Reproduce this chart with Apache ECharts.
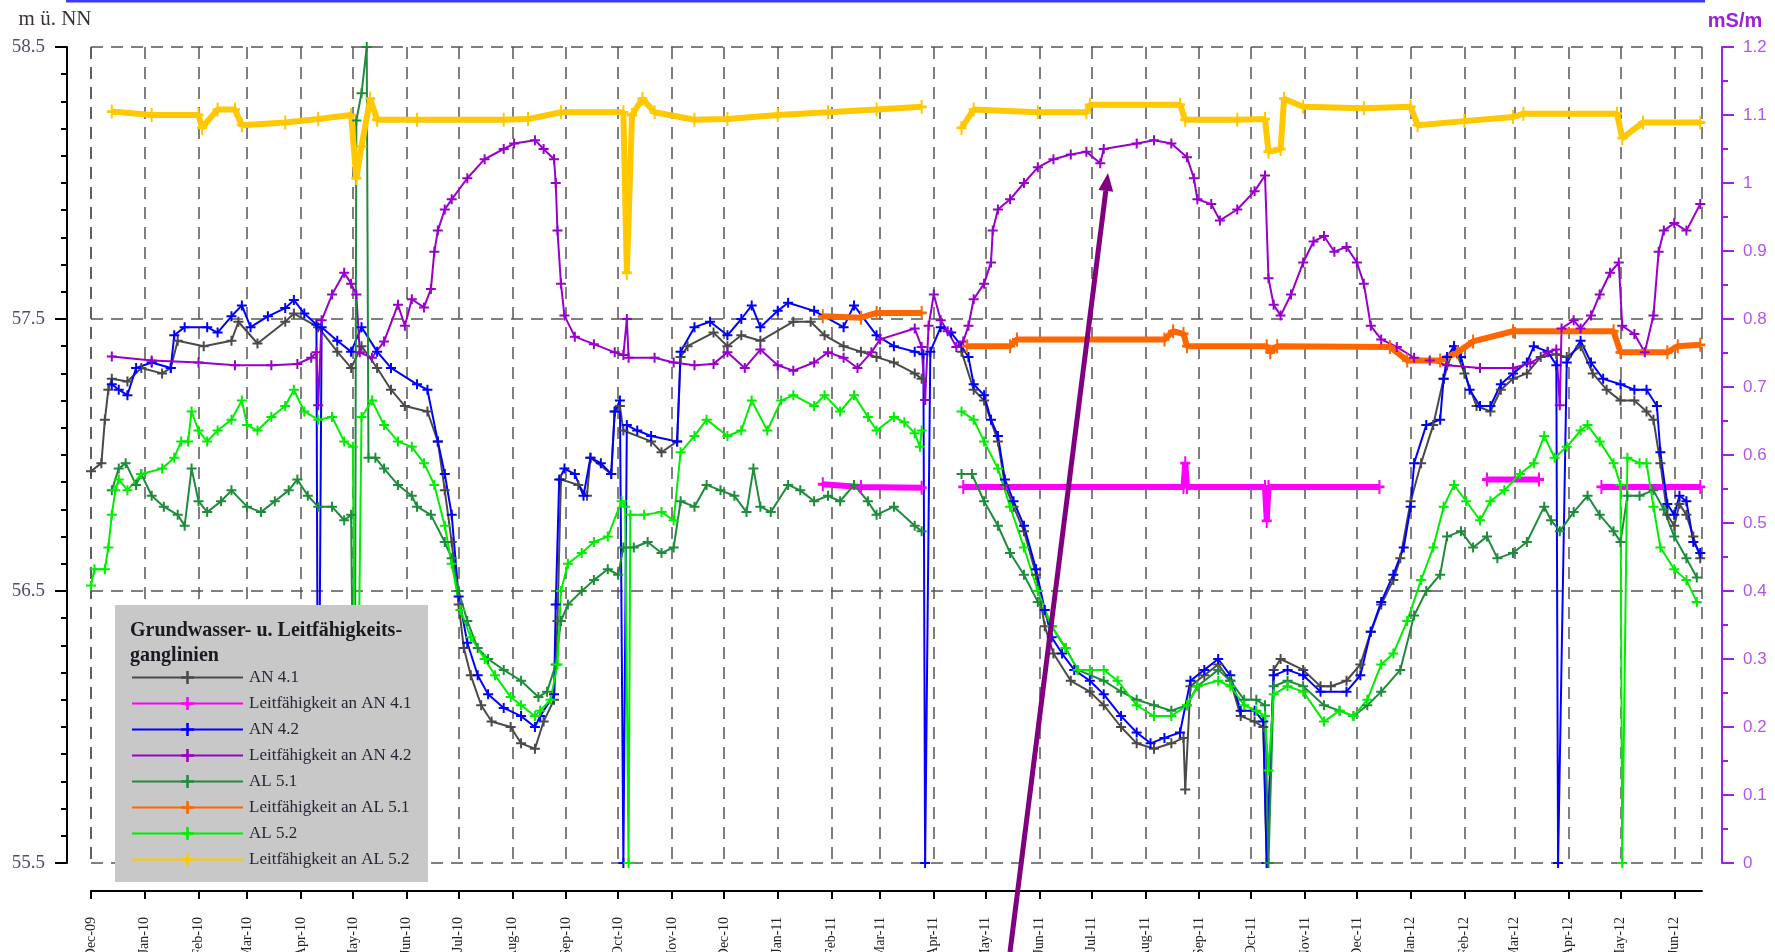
<!DOCTYPE html>
<html>
<head>
<meta charset="utf-8">
<title>Grundwasser- u. Leitfähigkeitsganglinien</title>
<script src="https://cdn.jsdelivr.net/npm/echarts@6/dist/echarts.min.js"></script>
<style>
  html, body { margin: 0; padding: 0; background: #fff; }
  #chart { width: 1775px; height: 952px; }
</style>
</head>
<body>
<div id="chart"></div>
<script>
// Wasserstand in m ü. NN (linke Achse)
const an41 = [
  ['2009-12-01', 56.94], ['2009-12-07', 56.97], ['2009-12-09', 57.13], ['2009-12-11', 57.24], ['2009-12-13', 57.28],
  ['2009-12-22', 57.27], ['2009-12-30', 57.32], ['2010-01-11', 57.30], ['2010-01-16', 57.32], ['2010-01-20', 57.42],
  ['2010-02-04', 57.40], ['2010-02-20', 57.42], ['2010-02-24', 57.49], ['2010-03-07', 57.41], ['2010-03-23', 57.49],
  ['2010-03-28', 57.52], ['2010-04-11', 57.47], ['2010-04-22', 57.38], ['2010-04-30', 57.32], ['2010-05-06', 57.40],
  ['2010-05-15', 57.32], ['2010-05-23', 57.24], ['2010-05-31', 57.18], ['2010-06-13', 57.16], ['2010-06-19', 57.05],
  ['2010-06-23', 56.87], ['2010-06-27', 56.68], ['2010-07-01', 56.45], ['2010-07-04', 56.29], ['2010-07-08', 56.19],
  ['2010-07-14', 56.08], ['2010-07-20', 56.02], ['2010-07-31', 56.00], ['2010-08-06', 55.94], ['2010-08-14', 55.92],
  ['2010-08-19', 56.02], ['2010-08-25', 56.10], ['2010-08-27', 56.39], ['2010-08-29', 56.91], ['2010-09-08', 56.89],
  ['2010-09-13', 56.85], ['2010-09-15', 56.99], ['2010-09-27', 56.93], ['2010-09-29', 57.16], ['2010-10-02', 57.18],
  ['2010-10-04', 57.09], ['2010-10-20', 57.05], ['2010-10-26', 57.01], ['2010-11-04', 57.05], ['2010-11-06', 57.36],
  ['2010-11-10', 57.40], ['2010-11-25', 57.45], ['2010-12-03', 57.40], ['2010-12-11', 57.44], ['2010-12-22', 57.42],
  ['2011-01-10', 57.49], ['2011-01-20', 57.49], ['2011-01-28', 57.44], ['2011-02-08', 57.40], ['2011-02-18', 57.38],
  ['2011-02-27', 57.36], ['2011-03-09', 57.34], ['2011-03-21', 57.30], ['2011-03-25', 57.28], ['2011-04-01', null],
  ['2011-04-17', 57.38], ['2011-04-24', 57.24], ['2011-04-30', 57.20], ['2011-05-08', 57.05], ['2011-05-12', 56.89],
  ['2011-05-17', 56.81], ['2011-05-23', 56.72], ['2011-05-30', 56.56], ['2011-06-04', 56.37], ['2011-06-09', 56.27],
  ['2011-06-19', 56.17], ['2011-06-30', 56.13], ['2011-07-08', 56.08], ['2011-07-18', 56.00], ['2011-07-27', 55.94],
  ['2011-08-06', 55.92], ['2011-08-16', 55.94], ['2011-08-23', 55.96], ['2011-08-24', 55.77], ['2011-08-27', 56.15],
  ['2011-09-04', 56.19], ['2011-09-12', 56.23], ['2011-09-19', 56.17], ['2011-09-25', 56.04], ['2011-10-03', 56.02],
  ['2011-10-08', 56.00], ['2011-10-10', 55.5], ['2011-10-14', 56.21], ['2011-10-18', 56.25], ['2011-10-31', 56.21],
  ['2011-11-10', 56.15], ['2011-11-16', 56.15], ['2011-11-25', 56.17], ['2011-12-03', 56.23], ['2011-12-09', 56.35],
  ['2011-12-15', 56.45], ['2011-12-22', 56.54], ['2011-12-26', 56.62], ['2012-01-01', 56.83], ['2012-01-07', 56.97],
  ['2012-01-14', 57.11], ['2012-01-20', 57.28], ['2012-01-26', 57.40], ['2012-02-01', 57.30], ['2012-02-08', 57.18],
  ['2012-02-16', 57.16], ['2012-02-22', 57.24], ['2012-02-29', 57.28], ['2012-03-08', 57.30], ['2012-03-16', 57.36],
  ['2012-03-25', 57.37], ['2012-03-31', 57.36], ['2012-04-08', 57.40], ['2012-04-15', 57.30], ['2012-04-23', 57.24],
  ['2012-05-01', 57.20], ['2012-05-09', 57.20], ['2012-05-16', 57.16], ['2012-05-20', 57.13], ['2012-05-24', 56.97],
  ['2012-05-28', 56.78], ['2012-06-01', 56.74], ['2012-06-04', 56.82], ['2012-06-08', 56.78], ['2012-06-12', 56.70],
  ['2012-06-16', 56.62]
];

const an42 = [
  ['2009-12-13', 57.26], ['2009-12-17', 57.24], ['2009-12-22', 57.22], ['2009-12-27', 57.32], ['2010-01-05', 57.34],
  ['2010-01-16', 57.32], ['2010-01-18', 57.44], ['2010-01-24', 57.47], ['2010-02-06', 57.47], ['2010-02-12', 57.45],
  ['2010-02-20', 57.51], ['2010-02-26', 57.55], ['2010-03-03', 57.47], ['2010-03-13', 57.51], ['2010-03-23', 57.54],
  ['2010-03-28', 57.57], ['2010-04-03', 57.52], ['2010-04-10', 57.48], ['2010-04-11', 55.5], ['2010-04-13', 57.47],
  ['2010-04-22', 57.42], ['2010-04-30', 57.38], ['2010-05-06', 57.47], ['2010-05-15', 57.38], ['2010-05-23', 57.32],
  ['2010-06-07', 57.26], ['2010-06-13', 57.24], ['2010-06-19', 57.05], ['2010-06-23', 56.93], ['2010-06-27', 56.78],
  ['2010-07-01', 56.48], ['2010-07-06', 56.31], ['2010-07-12', 56.19], ['2010-07-18', 56.12], ['2010-07-27', 56.07],
  ['2010-08-06', 56.04], ['2010-08-14', 56.00], ['2010-08-17', 56.04], ['2010-08-25', 56.12], ['2010-08-26', 56.45],
  ['2010-08-28', 56.91], ['2010-08-31', 56.95], ['2010-09-06', 56.93], ['2010-09-11', 56.85], ['2010-09-15', 56.99],
  ['2010-09-21', 56.97], ['2010-09-27', 56.93], ['2010-09-29', 57.16], ['2010-10-02', 57.20], ['2010-10-04', 55.5],
  ['2010-10-06', 57.11], ['2010-10-12', 57.09], ['2010-10-20', 57.07], ['2010-11-04', 57.05], ['2010-11-06', 57.38],
  ['2010-11-14', 57.47], ['2010-11-23', 57.49], ['2010-12-03', 57.44], ['2010-12-11', 57.50], ['2010-12-17', 57.55],
  ['2010-12-22', 57.47], ['2011-01-01', 57.53], ['2011-01-07', 57.56], ['2011-01-22', 57.53], ['2011-02-08', 57.47],
  ['2011-02-14', 57.55], ['2011-02-27', 57.44], ['2011-03-09', 57.40], ['2011-03-21', 57.38], ['2011-03-26', 57.37],
  ['2011-03-27', 55.5], ['2011-03-30', 57.38], ['2011-04-05', 57.47], ['2011-04-11', 57.45], ['2011-04-17', 57.40],
  ['2011-04-21', 57.36], ['2011-04-24', 57.26], ['2011-04-30', 57.22], ['2011-05-04', 57.13], ['2011-05-08', 57.07],
  ['2011-05-12', 56.91], ['2011-05-17', 56.83], ['2011-05-23', 56.74], ['2011-05-30', 56.58], ['2011-06-04', 56.43],
  ['2011-06-08', 56.33], ['2011-06-14', 56.27], ['2011-06-21', 56.21], ['2011-06-30', 56.17], ['2011-07-08', 56.12],
  ['2011-07-18', 56.04], ['2011-07-27', 55.98], ['2011-08-04', 55.94], ['2011-08-12', 55.96], ['2011-08-21', 55.98],
  ['2011-08-27', 56.17], ['2011-09-04', 56.21], ['2011-09-12', 56.25], ['2011-09-19', 56.19], ['2011-09-25', 56.06],
  ['2011-10-03', 56.06], ['2011-10-08', 56.02], ['2011-10-10', 55.5], ['2011-10-14', 56.19], ['2011-10-22', 56.21],
  ['2011-10-31', 56.19], ['2011-11-10', 56.13], ['2011-11-25', 56.13], ['2011-12-03', 56.19], ['2011-12-09', 56.35],
  ['2011-12-15', 56.46], ['2011-12-22', 56.56], ['2011-12-28', 56.66], ['2012-01-01', 56.81], ['2012-01-03', 56.97],
  ['2012-01-10', 57.11], ['2012-01-18', 57.13], ['2012-01-20', 57.28], ['2012-01-22', 57.36], ['2012-01-26', 57.40],
  ['2012-01-30', 57.36], ['2012-02-04', 57.24], ['2012-02-10', 57.18], ['2012-02-16', 57.18], ['2012-02-22', 57.26],
  ['2012-02-29', 57.30], ['2012-03-08', 57.34], ['2012-03-12', 57.40], ['2012-03-20', 57.38], ['2012-03-25', 57.33],
  ['2012-03-26', 55.5], ['2012-03-31', 57.34], ['2012-04-08', 57.42], ['2012-04-14', 57.34], ['2012-04-21', 57.28],
  ['2012-05-01', 57.26], ['2012-05-09', 57.24], ['2012-05-16', 57.24], ['2012-05-22', 57.18], ['2012-05-24', 57.01],
  ['2012-05-28', 56.82], ['2012-06-01', 56.78], ['2012-06-04', 56.85], ['2012-06-08', 56.83], ['2012-06-12', 56.68],
  ['2012-06-16', 56.64]
];

const al51 = [
  ['2009-12-13', 56.87], ['2009-12-17', 56.95], ['2009-12-21', 56.97], ['2009-12-27', 56.89], ['2009-12-30', 56.93],
  ['2010-01-05', 56.85], ['2010-01-12', 56.81], ['2010-01-20', 56.78], ['2010-01-24', 56.74], ['2010-01-28', 56.95],
  ['2010-02-01', 56.83], ['2010-02-06', 56.79], ['2010-02-14', 56.83], ['2010-02-20', 56.87], ['2010-03-01', 56.81],
  ['2010-03-09', 56.79], ['2010-03-17', 56.83], ['2010-03-25', 56.87], ['2010-03-30', 56.91], ['2010-04-05', 56.85],
  ['2010-04-11', 56.81], ['2010-04-19', 56.81], ['2010-04-26', 56.76], ['2010-04-30', 56.78], ['2010-05-02', 55.5],
  ['2010-05-03', 58.23], ['2010-05-06', 58.33], ['2010-05-09', 58.5], ['2010-05-10', 56.99], ['2010-05-14', 56.99],
  ['2010-05-19', 56.95], ['2010-05-27', 56.89], ['2010-06-04', 56.85], ['2010-06-07', 56.81], ['2010-06-15', 56.78],
  ['2010-06-23', 56.68], ['2010-06-27', 56.62], ['2010-07-01', 56.50], ['2010-07-06', 56.39], ['2010-07-12', 56.29],
  ['2010-07-18', 56.25], ['2010-07-27', 56.21], ['2010-08-06', 56.17], ['2010-08-16', 56.11], ['2010-08-21', 56.13],
  ['2010-08-26', 56.23], ['2010-08-29', 56.39], ['2010-09-02', 56.45], ['2010-09-10', 56.50], ['2010-09-17', 56.54],
  ['2010-09-25', 56.58], ['2010-10-01', 56.56], ['2010-10-04', 56.66], ['2010-10-10', 56.66], ['2010-10-18', 56.68],
  ['2010-10-26', 56.64], ['2010-11-02', 56.66], ['2010-11-06', 56.83], ['2010-11-14', 56.81], ['2010-11-21', 56.89],
  ['2010-11-29', 56.87], ['2010-12-07', 56.85], ['2010-12-14', 56.79], ['2010-12-18', 56.95], ['2010-12-22', 56.81],
  ['2010-12-28', 56.79], ['2011-01-07', 56.89], ['2011-01-14', 56.87], ['2011-01-22', 56.83], ['2011-01-30', 56.85],
  ['2011-02-06', 56.83], ['2011-02-14', 56.89], ['2011-02-22', 56.83], ['2011-02-27', 56.78], ['2011-03-09', 56.81],
  ['2011-03-21', 56.74], ['2011-03-25', 56.72], ['2011-04-01', null], ['2011-04-17', 56.93], ['2011-04-23', 56.93],
  ['2011-04-30', 56.83], ['2011-05-08', 56.74], ['2011-05-15', 56.64], ['2011-05-23', 56.56], ['2011-05-31', 56.46],
  ['2011-06-08', 56.37], ['2011-06-16', 56.29], ['2011-06-23', 56.21], ['2011-07-08', 56.17], ['2011-07-18', 56.13],
  ['2011-07-27', 56.10], ['2011-08-06', 56.08], ['2011-08-16', 56.06], ['2011-08-25', 56.08], ['2011-08-31', 56.15],
  ['2011-09-12', 56.21], ['2011-09-19', 56.17], ['2011-09-27', 56.10], ['2011-10-04', 56.10], ['2011-10-09', 56.08],
  ['2011-10-11', 55.5], ['2011-10-14', 56.15], ['2011-10-22', 56.17], ['2011-10-31', 56.15], ['2011-11-12', 56.08],
  ['2011-11-21', 56.06], ['2011-11-29', 56.04], ['2011-12-07', 56.08], ['2011-12-15', 56.13], ['2011-12-26', 56.21],
  ['2012-01-03', 56.41], ['2012-01-10', 56.50], ['2012-01-18', 56.56], ['2012-01-22', 56.70], ['2012-01-30', 56.72],
  ['2012-02-06', 56.66], ['2012-02-14', 56.70], ['2012-02-20', 56.62], ['2012-02-29', 56.64], ['2012-03-08', 56.68],
  ['2012-03-18', 56.81], ['2012-03-22', 56.76], ['2012-03-27', 56.72], ['2012-04-04', 56.79], ['2012-04-12', 56.85],
  ['2012-04-19', 56.78], ['2012-04-27', 56.72], ['2012-05-01', 56.68], ['2012-05-05', 56.85], ['2012-05-12', 56.85],
  ['2012-05-20', 56.87], ['2012-05-26', 56.80], ['2012-06-01', 56.70], ['2012-06-08', 56.62], ['2012-06-14', 56.55]
];

const al52 = [
  ['2009-12-01', 56.52], ['2009-12-03', 56.58], ['2009-12-09', 56.58], ['2009-12-11', 56.66], ['2009-12-13', 56.78],
  ['2009-12-15', 56.87], ['2009-12-17', 56.91], ['2009-12-22', 56.87], ['2009-12-30', 56.93], ['2010-01-11', 56.95],
  ['2010-01-18', 56.99], ['2010-01-22', 57.05], ['2010-01-26', 57.05], ['2010-01-28', 57.16], ['2010-02-01', 57.09],
  ['2010-02-06', 57.05], ['2010-02-12', 57.09], ['2010-02-20', 57.13], ['2010-02-26', 57.20], ['2010-03-01', 57.11],
  ['2010-03-07', 57.09], ['2010-03-15', 57.14], ['2010-03-23', 57.18], ['2010-03-28', 57.24], ['2010-04-03', 57.16],
  ['2010-04-11', 57.13], ['2010-04-19', 57.14], ['2010-04-26', 57.05], ['2010-05-01', 57.03], ['2010-05-03', 55.5],
  ['2010-05-06', 57.14], ['2010-05-12', 57.20], ['2010-05-19', 57.11], ['2010-05-27', 57.05], ['2010-06-04', 57.03],
  ['2010-06-11', 56.97], ['2010-06-17', 56.89], ['2010-06-23', 56.74], ['2010-06-27', 56.60], ['2010-07-02', 56.43],
  ['2010-07-08', 56.33], ['2010-07-16', 56.25], ['2010-07-22', 56.19], ['2010-07-31', 56.11], ['2010-08-06', 56.08],
  ['2010-08-14', 56.04], ['2010-08-17', 56.06], ['2010-08-23', 56.10], ['2010-08-27', 56.23], ['2010-08-29', 56.50],
  ['2010-09-02', 56.60], ['2010-09-10', 56.64], ['2010-09-17', 56.68], ['2010-09-25', 56.70], ['2010-10-03', 56.83],
  ['2010-10-05', 56.81], ['2010-10-07', 55.5], ['2010-10-08', 56.78], ['2010-10-16', 56.78], ['2010-10-26', 56.79],
  ['2010-11-02', 56.76], ['2010-11-06', 57.01], ['2010-11-14', 57.07], ['2010-11-21', 57.13], ['2010-12-03', 57.07],
  ['2010-12-11', 57.09], ['2010-12-17', 57.20], ['2010-12-26', 57.09], ['2011-01-03', 57.20], ['2011-01-10', 57.22],
  ['2011-01-22', 57.18], ['2011-01-28', 57.22], ['2011-02-06', 57.16], ['2011-02-14', 57.22], ['2011-02-22', 57.14],
  ['2011-02-27', 57.09], ['2011-03-09', 57.14], ['2011-03-15', 57.12], ['2011-03-21', 57.08], ['2011-03-24', 57.03],
  ['2011-03-25', 57.09], ['2011-04-01', null], ['2011-04-17', 57.16], ['2011-04-24', 57.13], ['2011-04-30', 57.05],
  ['2011-05-08', 56.95], ['2011-05-15', 56.81], ['2011-05-23', 56.66], ['2011-05-31', 56.50], ['2011-06-08', 56.37],
  ['2011-06-16', 56.29], ['2011-06-23', 56.21], ['2011-06-30', 56.21], ['2011-07-08', 56.21], ['2011-07-16', 56.17],
  ['2011-07-27', 56.08], ['2011-08-06', 56.04], ['2011-08-16', 56.04], ['2011-08-25', 56.08], ['2011-08-31', 56.15],
  ['2011-09-12', 56.17], ['2011-09-19', 56.15], ['2011-09-27', 56.08], ['2011-10-04', 56.06], ['2011-10-09', 56.04],
  ['2011-10-11', 55.84], ['2011-10-14', 56.12], ['2011-10-22', 56.15], ['2011-10-31', 56.13], ['2011-11-12', 56.02],
  ['2011-11-21', 56.06], ['2011-11-29', 56.04], ['2011-12-07', 56.10], ['2011-12-15', 56.23], ['2011-12-22', 56.27],
  ['2011-12-30', 56.39], ['2012-01-07', 56.54], ['2012-01-14', 56.66], ['2012-01-20', 56.81], ['2012-01-26', 56.89],
  ['2012-02-02', 56.83], ['2012-02-10', 56.76], ['2012-02-16', 56.83], ['2012-02-24', 56.87], ['2012-03-04', 56.93],
  ['2012-03-12', 56.97], ['2012-03-18', 57.07], ['2012-03-24', 56.99], ['2012-03-31', 57.03], ['2012-04-08', 57.09],
  ['2012-04-12', 57.11], ['2012-04-19', 57.05], ['2012-04-27', 56.97], ['2012-05-01', 56.89], ['2012-05-02', 55.5],
  ['2012-05-05', 56.99], ['2012-05-12', 56.97], ['2012-05-16', 56.97], ['2012-05-20', 56.81], ['2012-05-24', 56.66],
  ['2012-06-01', 56.58], ['2012-06-08', 56.54], ['2012-06-14', 56.46]
];

// Leitfähigkeit in mS/m (rechte Achse)
const lfAn41 = [
  ['2011-01-27', 0.557], ['2011-02-18', 0.553], ['2011-03-25', 0.552], ['2011-04-01', null],
  ['2011-04-18', 0.553], ['2011-08-23', 0.553], ['2011-08-24', 0.588], ['2011-08-25', 0.553],
  ['2011-10-09', 0.553], ['2011-10-10', 0.503], ['2011-10-11', 0.553], ['2011-12-14', 0.553],
  ['2012-01-01', null], ['2012-02-14', 0.564], ['2012-03-15', 0.564], ['2012-03-31', null],
  ['2012-04-20', 0.553], ['2012-06-16', 0.553]
];

const lfAn42 = [
  ['2009-12-13', 0.745], ['2010-01-05', 0.739], ['2010-02-01', 0.736], ['2010-02-22', 0.732], ['2010-03-15', 0.732],
  ['2010-03-30', 0.734], ['2010-04-07', 0.743], ['2010-04-10', 0.751], ['2010-04-11', 0.673], ['2010-04-13', 0.798],
  ['2010-04-19', 0.836], ['2010-04-26', 0.868], ['2010-04-30', 0.852], ['2010-05-03', 0.836], ['2010-05-05', 0.751],
  ['2010-05-12', 0.743], ['2010-05-19', 0.767], ['2010-05-27', 0.821], ['2010-05-31', 0.790], ['2010-06-04', 0.829],
  ['2010-06-11', 0.817], ['2010-06-15', 0.844], ['2010-06-17', 0.899], ['2010-06-19', 0.930], ['2010-06-23', 0.961],
  ['2010-06-27', 0.976], ['2010-07-06', 1.007], ['2010-07-16', 1.035], ['2010-07-27', 1.050], ['2010-08-02', 1.058],
  ['2010-08-14', 1.063], ['2010-08-19', 1.050], ['2010-08-25', 1.035], ['2010-08-26', 1.000], ['2010-08-27', 0.930],
  ['2010-08-29', 0.852], ['2010-08-31', 0.805], ['2010-09-06', 0.774], ['2010-09-17', 0.763], ['2010-09-29', 0.751],
  ['2010-10-04', 0.747], ['2010-10-06', 0.800], ['2010-10-07', 0.743], ['2010-10-22', 0.743], ['2010-11-02', 0.736],
  ['2010-11-14', 0.732], ['2010-11-25', 0.734], ['2010-12-03', 0.751], ['2010-12-13', 0.728], ['2010-12-22', 0.755],
  ['2011-01-01', 0.732], ['2011-01-10', 0.724], ['2011-01-22', 0.736], ['2011-01-30', 0.751], ['2011-02-08', 0.743],
  ['2011-02-16', 0.728], ['2011-02-24', 0.751], ['2011-03-01', 0.770], ['2011-03-21', 0.786], ['2011-03-25', 0.759],
  ['2011-03-27', 0.681], ['2011-03-29', 0.790], ['2011-04-01', 0.836], ['2011-04-05', 0.798], ['2011-04-09', 0.782],
  ['2011-04-14', 0.759], ['2011-04-18', 0.767], ['2011-04-21', 0.790], ['2011-04-24', 0.829], ['2011-04-30', 0.852],
  ['2011-05-04', 0.883], ['2011-05-05', 0.930], ['2011-05-08', 0.961], ['2011-05-15', 0.976], ['2011-05-23', 1.000],
  ['2011-05-31', 1.023], ['2011-06-09', 1.035], ['2011-06-19', 1.042], ['2011-06-28', 1.046], ['2011-07-06', 1.029],
  ['2011-07-08', 1.050], ['2011-07-27', 1.058], ['2011-08-06', 1.063], ['2011-08-16', 1.058], ['2011-08-25', 1.038],
  ['2011-08-29', 1.007], ['2011-08-31', 0.976], ['2011-09-08', 0.969], ['2011-09-13', 0.945], ['2011-09-23', 0.961],
  ['2011-10-03', 0.988], ['2011-10-09', 1.011], ['2011-10-11', 0.860], ['2011-10-14', 0.821], ['2011-10-18', 0.805],
  ['2011-10-24', 0.836], ['2011-10-31', 0.883], ['2011-11-06', 0.914], ['2011-11-12', 0.922], ['2011-11-18', 0.899],
  ['2011-11-25', 0.906], ['2011-12-01', 0.883], ['2011-12-05', 0.852], ['2011-12-09', 0.790], ['2011-12-15', 0.770],
  ['2011-12-24', 0.759], ['2012-01-03', 0.743], ['2012-01-12', 0.739], ['2012-01-22', 0.732], ['2012-02-10', 0.728],
  ['2012-02-29', 0.728], ['2012-03-10', 0.735], ['2012-03-20', 0.751], ['2012-03-25', 0.755], ['2012-03-27', 0.673],
  ['2012-03-28', 0.786], ['2012-04-04', 0.798], ['2012-04-08', 0.786], ['2012-04-14', 0.805], ['2012-04-19', 0.836],
  ['2012-04-25', 0.868], ['2012-04-30', 0.883], ['2012-05-02', 0.790], ['2012-05-09', 0.778], ['2012-05-15', 0.751],
  ['2012-05-20', 0.805], ['2012-05-23', 0.899], ['2012-05-26', 0.930], ['2012-06-01', 0.941], ['2012-06-08', 0.930],
  ['2012-06-16', 0.969]
];

const lfAl51 = [
  ['2011-01-27', 0.804], ['2011-02-18', 0.802], ['2011-02-27', 0.809], ['2011-03-25', 0.809], ['2011-04-01', null],
  ['2011-04-20', 0.760], ['2011-05-15', 0.760], ['2011-05-19', 0.770], ['2011-08-12', 0.770], ['2011-08-17', 0.782],
  ['2011-08-23', 0.778], ['2011-08-25', 0.760], ['2011-10-10', 0.760], ['2011-10-12', 0.751], ['2011-10-16', 0.760],
  ['2011-12-20', 0.759], ['2011-12-30', 0.739], ['2012-01-18', 0.739], ['2012-01-28', 0.751], ['2012-02-06', 0.767],
  ['2012-02-29', 0.782], ['2012-04-27', 0.782], ['2012-05-01', 0.751], ['2012-05-28', 0.751], ['2012-06-03', 0.760],
  ['2012-06-16', 0.762]
];

const lfAl52 = [
  ['2009-12-13', 1.105], ['2010-01-05', 1.100], ['2010-02-01', 1.100], ['2010-02-03', 1.081], ['2010-02-12', 1.108],
  ['2010-02-22', 1.108], ['2010-02-26', 1.085], ['2010-03-23', 1.089], ['2010-04-11', 1.094], ['2010-04-30', 1.100],
  ['2010-05-03', 1.007], ['2010-05-06', 1.054], ['2010-05-11', 1.124], ['2010-05-15', 1.093], ['2010-06-07', 1.093],
  ['2010-07-27', 1.093], ['2010-08-10', 1.094], ['2010-08-29', 1.104], ['2010-10-04', 1.104], ['2010-10-06', 0.868],
  ['2010-10-09', 1.100], ['2010-10-15', 1.124], ['2010-10-22', 1.104], ['2010-11-14', 1.093], ['2010-12-03', 1.094],
  ['2011-01-01', 1.100], ['2011-01-30', 1.104], ['2011-02-27', 1.108], ['2011-03-25', 1.112], ['2011-04-01', null],
  ['2011-04-17', 1.081], ['2011-04-24', 1.108], ['2011-05-31', 1.104], ['2011-06-28', 1.104], ['2011-06-30', 1.115],
  ['2011-08-21', 1.115], ['2011-08-24', 1.093], ['2011-09-23', 1.093], ['2011-10-09', 1.094], ['2011-10-11', 1.046],
  ['2011-10-18', 1.050], ['2011-10-20', 1.124], ['2011-10-31', 1.112], ['2011-12-05', 1.110], ['2012-01-01', 1.112],
  ['2012-01-05', 1.085], ['2012-02-01', 1.091], ['2012-02-29', 1.097], ['2012-03-06', 1.102], ['2012-04-29', 1.102],
  ['2012-05-02', 1.066], ['2012-05-14', 1.089], ['2012-06-16', 1.089]
];

const seriesNames = [
  'AN 4.1', 'Leitfähigkeit an AN 4.1', 'AN 4.2', 'Leitfähigkeit an AN 4.2',
  'AL 5.1', 'Leitfähigkeit an AL 5.1', 'AL 5.2', 'Leitfähigkeit an AL 5.2'
];
const monthNames = ['Jan', 'Feb', 'Mar', 'Apr', 'May', 'Jun', 'Jul', 'Aug', 'Sep', 'Oct', 'Nov', 'Dec'];

const DAY = 24 * 3600 * 1000;
const plus = 'path://M4,0H6V10H4ZM0,4H10V6H0Z';
const dashed = { color: '#555', type: [12, 8], width: 1.5 };

const level = (name, data, color) => ({
  name, type: 'line', data, yAxisIndex: 0,
  symbol: plus, symbolSize: 10, showAllSymbol: true,
  itemStyle: { color }, lineStyle: { color, width: 2 },
  connectNulls: false
});

const cond = (name, data, color, width, size) => ({
  name, type: 'line', data, yAxisIndex: 1,
  symbol: plus, symbolSize: size, showAllSymbol: true,
  itemStyle: { color }, lineStyle: { color, width },
  connectNulls: false
});

const monthLabel = (val) => {
  const d = new Date(val);
  return monthNames[d.getMonth()] + '-' + String(d.getFullYear() % 100).padStart(2, '0');
};

const getOptionChart = () => ({
  animation: false,
  backgroundColor: '#fff',
  grid: { left: 91, right: 73, top: 47, bottom: 89, containLabel: false, outerBoundsMode: 'none' },
  xAxis: {
    type: 'time',
    min: '2009-12-01',
    max: '2012-06-17',
    offset: 28,
    splitNumber: 31,
    minInterval: 28 * DAY,
    maxInterval: 31 * DAY,
    axisLine: { show: true, onZero: false, lineStyle: { color: '#000', width: 2 } },
    axisTick: { show: true, length: 8, lineStyle: { color: '#000', width: 2 } },
    axisLabel: {
      rotate: 90, margin: 26, fontFamily: 'Liberation Serif', fontSize: 14, color: '#222',
      formatter: monthLabel, hideOverlap: false, showMaxLabel: false
    },
    splitLine: { show: true, lineStyle: dashed }
  },
  yAxis: [
    {
      type: 'value', min: 55.5, max: 58.5, interval: 1,
      position: 'left', offset: 24,
      name: 'm ü. NN', nameLocation: 'end', nameGap: 17,
      nameTextStyle: { fontFamily: 'Liberation Serif', fontSize: 21, color: '#3a3236', padding: [0, 24, 0, 0] },
      axisLine: { show: true, lineStyle: { color: '#000', width: 2 } },
      axisTick: { show: true, length: 12, lineStyle: { color: '#000', width: 2 } },
      minorTick: { show: true, splitNumber: 10, length: 6, lineStyle: { color: '#000', width: 2 } },
      axisLabel: { fontFamily: 'Liberation Serif', fontSize: 19, color: '#4e4e66', margin: 22, formatter: (v) => v.toFixed(1) },
      splitLine: { show: true, lineStyle: dashed }
    },
    {
      type: 'value', min: 0, max: 1.2, interval: 0.1,
      position: 'right', offset: 20,
      name: 'mS/m', nameLocation: 'end', nameGap: 16,
      nameTextStyle: { fontFamily: 'Liberation Sans', fontSize: 20, fontWeight: 'bold', color: '#9a22d4', padding: [0, 0, 0, 26] },
      axisLine: { show: true, lineStyle: { color: '#a020e0', width: 2 } },
      axisTick: { show: true, length: 12, lineStyle: { color: '#a020e0', width: 2 } },
      minorTick: { show: true, splitNumber: 2, length: 6, lineStyle: { color: '#a020e0', width: 2 } },
      axisLabel: { fontFamily: 'Liberation Sans', fontSize: 17, color: '#b455e8', margin: 21, formatter: (v) => String(Math.round(v * 10) / 10) },
      splitLine: { show: false }
    }
  ],
  legend: {
    data: seriesNames,
    orient: 'vertical',
    left: 126,
    top: 664,
    itemWidth: 111,
    itemHeight: 16,
    itemGap: 9,
    selectedMode: false,
    z: 8,
    lineStyle: { width: 2 },
    textStyle: { fontFamily: 'Liberation Serif', fontSize: 17, lineHeight: 16, color: '#262636', padding: [0, 0, 0, 1] }
  },
  graphic: [
    { type: 'rect', z: 5, shape: { x: 66, y: 0, width: 1639, height: 2.5 }, style: { fill: '#3b3bff' } },
    { type: 'rect', z: 5, shape: { x: 115, y: 605, width: 313, height: 277 }, style: { fill: '#c8c8c8' } },
    {
      type: 'text', z: 6, x: 130, y: 618,
      style: {
        text: 'Grundwasser- u. Leitfähigkeits-\nganglinien',
        fontFamily: 'Liberation Serif', fontSize: 20, fontWeight: 'bold', lineHeight: 25, fill: '#1a1a22'
      }
    },
    { type: 'line', z: 20, shape: { x1: 1010, y1: 952, x2: 1105.8, y2: 190.9 }, style: { stroke: '#800080', lineWidth: 5 } },
    { type: 'polygon', z: 20, shape: { points: [[1108, 173], [1113.2, 191.8], [1098.4, 190]] }, style: { fill: '#800080' } }
  ],
  series: [
    level(seriesNames[0], an41, '#4a4a4a'),
    cond(seriesNames[1], lfAn41, '#ff00ff', 6, [10, 14]),
    level(seriesNames[2], an42, '#0000ff'),
    cond(seriesNames[3], lfAn42, '#9900cc', 2, 10),
    level(seriesNames[4], al51, '#1e8c3a'),
    cond(seriesNames[5], lfAl51, '#ff6600', 6, [10, 14]),
    level(seriesNames[6], al52, '#00ee00'),
    cond(seriesNames[7], lfAl52, '#ffc800', 6, [10, 14])
  ]
});

const initCharts = () => {
  const chart = echarts.init(document.getElementById('chart'));
  chart.setOption(getOptionChart());
};

window.addEventListener('load', () => {
  initCharts();
});
</script>
</body>
</html>
